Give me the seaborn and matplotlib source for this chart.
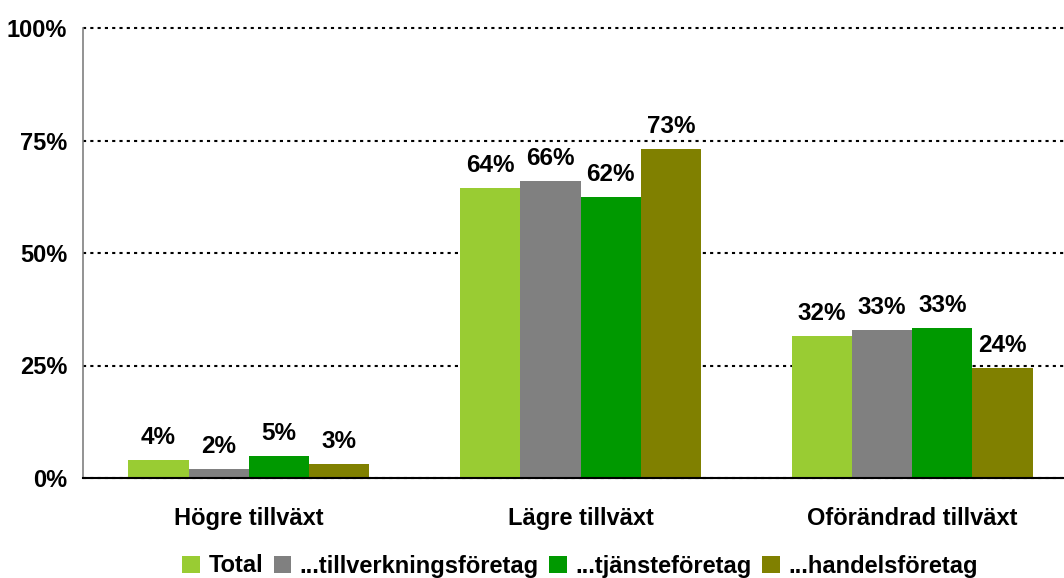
import matplotlib
matplotlib.use("Agg")
import matplotlib.pyplot as plt
import seaborn as sns
import pandas as pd
from matplotlib.ticker import FixedLocator, FuncFormatter
from matplotlib.patches import Patch

# ---- data ----
categories = ["Högre tillväxt", "Lägre tillväxt", "Oförändrad tillväxt"]
series = ["Total", "...tillverkningsföretag", "...tjänsteföretag", "...handelsföretag"]
total = [4.0, 64.4, 31.6]
tillverkning = [2.0, 66.0, 32.9]
tjanste = [4.9, 62.4, 33.3]
handel = [3.1, 73.1, 24.4]
yticks = [0, 25, 50, 75, 100]
colors = ["#99CC33", "#808080", "#009900", "#808000"]

values = [total, tillverkning, tjanste, handel]
rows = []
for s, vals in zip(series, values):
    for c, v in zip(categories, vals):
        rows.append({"Kategori": c, "Serie": s, "Andel": v})
df = pd.DataFrame(rows)

sns.set_style("white")
plt.rcParams["font.family"] = ["Liberation Sans", "DejaVu Sans"]
plt.rcParams["font.weight"] = "bold"
plt.rcParams["text.color"] = "black"

fig = plt.figure(figsize=(10.64, 5.78), dpi=100)
ax = fig.add_axes([83 / 1064, 100 / 578, 995 / 1064, 450 / 578])

sns.barplot(data=df, x="Kategori", y="Andel", hue="Serie", order=categories,
            hue_order=series, palette=colors, width=0.727, saturation=1,
            gap=0, legend=False, ax=ax, edgecolor="none", linewidth=0)

for cont, vals in zip(ax.containers, values):
    ax.bar_label(cont, labels=[f"{round(v):d}%" for v in vals], padding=8,
                 fontsize=17.5, fontweight="bold", color="black")

ax.set_ylim(0, 100)
ax.set_xlim(-0.5, 2.5)
ax.yaxis.set_major_locator(FixedLocator(yticks))
ax.yaxis.set_major_formatter(FuncFormatter(lambda v, p: f"{int(v)}%"))
ax.set_xlabel("")
ax.set_ylabel("")

ax.yaxis.grid(True, linestyle=(0, (1.5, 2)), color="black", linewidth=1.5)
ax.xaxis.grid(False)
ax.set_axisbelow(True)
for gl in ax.get_ygridlines():
    gl.set_clip_on(False)

for s in ["top", "right"]:
    ax.spines[s].set_visible(False)
ax.spines["left"].set_color("#808080")
ax.spines["left"].set_linewidth(1.2)
ax.spines["bottom"].set_color("black")
ax.spines["bottom"].set_linewidth(1.5)

ax.tick_params(axis="y", which="major", length=4.5, width=1, color="#808080",
               labelcolor="black", direction="out", pad=7, labelsize=17)
ax.tick_params(axis="x", which="major", length=0, pad=21, labelsize=17,
               labelcolor="black")
ax.xaxis.set_minor_locator(FixedLocator([0.5, 1.5]))
ax.tick_params(axis="x", which="minor", length=5, width=1, color="#808080",
               direction="out")
for lbl in ax.get_xticklabels() + ax.get_yticklabels():
    lbl.set_fontweight("bold")

handles = [Patch(facecolor=c, edgecolor="none", label=s) for c, s in zip(colors, series)]
leg = fig.legend(handles=handles, loc="center", bbox_to_anchor=(580 / 1064, 1 - 566 / 578),
                 ncol=4, frameon=False, handlelength=0.75, handleheight=0.75,
                 handletextpad=0.35, columnspacing=0.45,
                 prop={"weight": "bold", "size": 17})
for t in leg.get_texts():
    t.set_color("black")

fig.savefig("out.png", dpi=100)
